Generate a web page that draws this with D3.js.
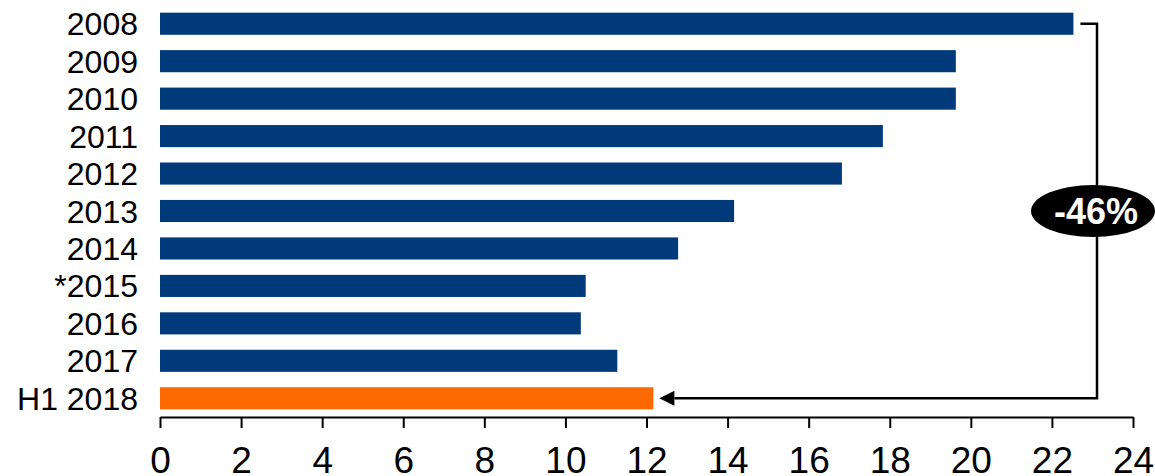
<!DOCTYPE html>
<html>
<head>
<meta charset="utf-8">
<script src="https://cdn.jsdelivr.net/npm/d3@7"></script>
<style>
  html, body { margin: 0; padding: 0; background: #fff; }
  svg { display: block; font-family: "Liberation Sans", Arial, sans-serif; }
</style>
</head>
<body>
<svg id="chart"></svg>
<script>
const categories = ["2008", "2009", "2010", "2011", "2012", "2013", "2014", "*2015", "2016", "2017", "H1 2018"]
const values = [22.53, 19.63, 19.63, 17.83, 16.82, 14.16, 12.78, 10.50, 10.38, 11.28, 12.17]
const xTicks = [0, 2, 4, 6, 8, 10, 12, 14, 16, 18, 20, 22, 24]
const changeLabel = "-46%"

const full_width = 1155
const full_height = 476
const navy = "#003a7a"
const orange = "#ff6a00"

const svg = d3.select("#chart")
  .attr("width", full_width)
  .attr("height", full_height)

const x = d3.scaleLinear()
  .domain([0, 24])
  .range([160, 1133])

const y = d3.scaleBand()
  .domain(categories)
  .range([5, 417])
  .paddingInner(0.41)
  .paddingOuter(0.205)

// bars
svg.append("g")
  .selectAll("rect")
  .data(categories)
  .enter()
  .append("rect")
  .attr("x", x(0))
  .attr("y", d => y(d))
  .attr("width", (d, i) => x(values[i]) - x(0))
  .attr("height", y.bandwidth())
  .attr("fill", (d, i) => i === categories.length - 1 ? orange : navy)

// category labels
svg.append("g")
  .selectAll("text")
  .data(categories)
  .enter()
  .append("text")
  .attr("x", 138)
  .attr("y", d => y(d) + y.bandwidth() / 2)
  .attr("dy", "0.36em")
  .attr("text-anchor", "end")
  .attr("font-size", "32px")
  .attr("fill", "#000")
  .text(d => d)

// x axis
const xaxis = d3.axisBottom(x)
  .tickValues(xTicks)
  .tickSize(11)
  .tickSizeOuter(0)
  .tickPadding(19)
const axisG = svg.append("g")
  .attr("transform", "translate(0, 417)")
  .call(xaxis)
axisG.select(".domain").attr("stroke", "#000").attr("stroke-width", 2)
axisG.selectAll(".tick line").attr("stroke", "#000").attr("stroke-width", 2)
axisG.selectAll(".tick text")
  .attr("font-size", "37px")
  .attr("font-family", "Liberation Sans, Arial, sans-serif")
  .attr("fill", "#000")

// bracket from first bar to last bar
const firstY = y(categories[0]) + y.bandwidth() / 2
const lastY = y(categories[categories.length - 1]) + y.bandwidth() / 2
const bx = 1097
const firstEnd = x(values[0]) + 7
const lastEnd = x(values[values.length - 1]) + 6

svg.append("defs").append("marker")
  .attr("id", "arrow")
  .attr("viewBox", "0 0 10 10")
  .attr("refX", 0)
  .attr("refY", 5)
  .attr("markerWidth", 7)
  .attr("markerHeight", 6)
  .attr("markerUnits", "strokeWidth")
  .attr("orient", "auto-start-reverse")
  .append("path")
  .attr("d", "M0,0 L10,5 L0,10 Z")
  .attr("fill", "#000")

svg.append("path")
  .attr("d", `M${firstEnd},${firstY} H${bx} V${lastY} H${lastEnd + 15}`)
  .attr("fill", "none")
  .attr("stroke", "#000")
  .attr("stroke-width", 2.5)
  .attr("marker-end", "url(#arrow)")

// ellipse badge
const cy = 211
svg.append("ellipse")
  .attr("cx", bx - 4)
  .attr("cy", cy)
  .attr("rx", 62)
  .attr("ry", 26)
  .attr("fill", "#000")
svg.append("text")
  .attr("x", bx - 1)
  .attr("y", cy)
  .attr("dy", "0.36em")
  .attr("text-anchor", "middle")
  .attr("font-size", "36px")
  .attr("font-weight", "bold")
  .attr("fill", "#fff")
  .text(changeLabel)
</script>
</body>
</html>
